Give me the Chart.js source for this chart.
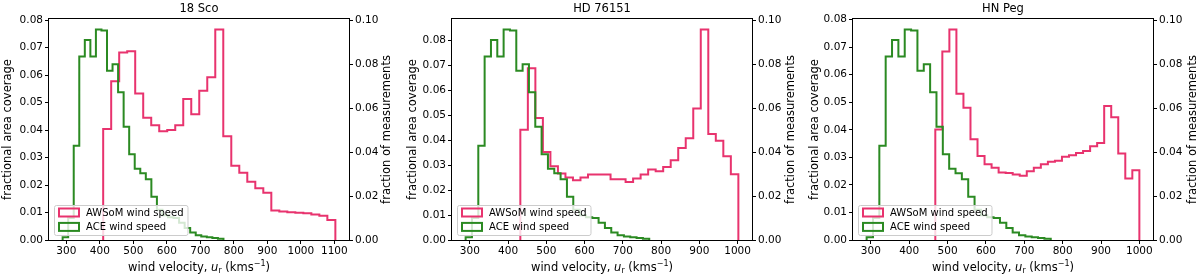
<!DOCTYPE html>
<html><head><meta charset="utf-8">
<script src="https://cdn.jsdelivr.net/npm/chart.js@4.4.1/dist/chart.umd.min.js"></script>
<style>
html,body{margin:0;padding:0;background:#fff;}
#wrap{position:relative;width:1200px;height:278px;overflow:hidden;}
canvas{position:absolute;top:0;}
</style></head><body>
<div id="wrap">
<canvas id="c0" width="400" height="278" style="left:0px"></canvas>
<canvas id="c1" width="400" height="278" style="left:400px"></canvas>
<canvas id="c2" width="400" height="278" style="left:800px"></canvas>
</div>
<script>
// ---------------- DATA ----------------
const panelTitles = ['18 Sco', 'HD 76151', 'HN Peg'];
const seriesLabels = ['AWSoM wind speed', 'ACE wind speed'];

// tick labels
const xTicks18Sco = [300, 400, 500, 600, 700, 800, 900, 1000, 1100];
const xTicksOther = [300, 400, 500, 600, 700, 800, 900, 1000];
const leftTicks = [0.00, 0.01, 0.02, 0.03, 0.04, 0.05, 0.06, 0.07, 0.08];
const rightTicks = [0.00, 0.02, 0.04, 0.06, 0.08, 0.10];

// ACE measured wind speed histogram (same in all panels), fraction of measurements, 29 bins
const aceRange = [289, 769];
const aceValues = [0.0012, 0.0100, 0.0428, 0.0834, 0.0909, 0.0834, 0.0957, 0.0952, 0.0769, 0.0799,
                   0.0672, 0.0515, 0.0390, 0.0324, 0.0303, 0.0276, 0.0197, 0.0138, 0.0112, 0.0104,
                   0.0100, 0.0078, 0.0055, 0.0034, 0.0022, 0.0016, 0.0013, 0.0009, 0.0006];

// AWSoM wind speed histograms, fractional area coverage, 29 bins each
const awsomRange18Sco = [410, 1103];
const awsom18Sco = [0.0404, 0.0578, 0.0682, 0.0687, 0.0533, 0.0445, 0.0418, 0.0396, 0.0400, 0.0418,
                    0.0513, 0.0458, 0.0543, 0.0592, 0.0766, 0.0378, 0.0270, 0.0245, 0.0212, 0.0188,
                    0.0172, 0.0107, 0.0104, 0.0101, 0.0099, 0.0097, 0.0093, 0.0088, 0.0073];

const awsomRangeHD76151 = [432, 1002];
const awsomHD76151 = [0.0442, 0.0688, 0.0489, 0.0352, 0.0295, 0.0266, 0.0250, 0.0239, 0.0250, 0.0262,
                      0.0262, 0.0262, 0.0243, 0.0243, 0.0232, 0.0246, 0.0262, 0.0282, 0.0275, 0.0292,
                      0.0319, 0.0368, 0.0408, 0.0527, 0.0843, 0.0425, 0.0398, 0.0335, 0.0263];

const awsomRangeHNPeg = [468, 1000];
const awsomHNPeg = [0.0401, 0.0684, 0.0764, 0.0531, 0.0480, 0.0366, 0.0305, 0.0275, 0.0262, 0.0245,
                    0.0243, 0.0238, 0.0233, 0.0250, 0.0262, 0.0275, 0.0284, 0.0288, 0.0302, 0.0308,
                    0.0316, 0.0323, 0.0340, 0.0352, 0.0486, 0.0446, 0.0314, 0.0223, 0.0253];

// ---------------- STYLE / LAYOUT ----------------
const RED = '#e8336e';
const GREEN = '#2b8a22';
const FONT = "'DejaVu Sans', sans-serif";
const LAYOUT = [
  {left: 49, right: 51, ltPad: 1.4, rtX: 386.7},
  {left: 52, right: 48, ltPad: 5.8, rtX: 390.7},
  {left: 53, right: 47, ltPad: 8.1, rtX: 393.3}
];

Chart.defaults.font.family = FONT;
Chart.defaults.color = '#000';

function stepPoints(range, vals) {
  const n = vals.length, w = (range[1] - range[0]) / n;
  const pts = [{x: range[0], y: 0}];
  vals.forEach((v, i) => {
    pts.push({x: range[0] + i * w, y: v});
    pts.push({x: range[0] + (i + 1) * w, y: v});
  });
  pts.push({x: range[1], y: 0});
  return pts;
}

function fixedTicks(arr) {
  return s => { s.ticks = arr.map(v => ({value: v})); };
}

const framePlugin = {
  id: 'frame',
  afterDatasetsDraw(chart) {
    const {ctx, chartArea: a} = chart;
    ctx.save();
    ctx.strokeStyle = '#000';
    ctx.lineWidth = 1;
    const l = Math.round(a.left) - 0.5, t = Math.round(a.top) - 0.5;
    const r = Math.round(a.right) + 0.5, b = Math.round(a.bottom) + 0.5;
    ctx.strokeRect(l, t, r - l, b - t);
    ctx.restore();
  }
};

const legendPlugin = {
  id: 'boxlegend',
  afterDatasetsDraw(chart) {
    const {ctx, chartArea: a} = chart;
    const ds = chart.data.datasets;
    ctx.save();
    ctx.font = '10px ' + FONT;
    const tw = Math.max(...ds.map(d => ctx.measureText(d.label).width));
    const x0 = Math.round(a.left) + 5, h = 30, y0 = Math.round(a.bottom) - 5 - h;
    const w = 32 + tw + 4;
    ctx.beginPath();
    ctx.roundRect(x0 + 0.5, y0 + 0.5, w, h, 2);
    ctx.fillStyle = 'rgba(255,255,255,0.8)';
    ctx.fill();
    ctx.strokeStyle = '#cccccc';
    ctx.lineWidth = 1;
    ctx.stroke();
    ds.forEach((d, i) => {
      const cy = y0 + 7.5 + i * 14.4;
      ctx.strokeStyle = d.borderColor;
      ctx.lineWidth = 2;
      ctx.strokeRect(x0 + 5, cy - 4, 20, 8);
      ctx.fillStyle = '#000';
      ctx.textBaseline = 'middle';
      ctx.textAlign = 'left';
      ctx.fillText(d.label, x0 + 32, cy + 0.5);
    });
    ctx.restore();
  }
};

function axisTitlesPlugin(idx) {
  return {
    id: 'axtitles' + idx,
    afterDraw(chart) {
      const {ctx, chartArea: a} = chart;
      ctx.save();
      ctx.fillStyle = '#000';
      ctx.font = '11.5px ' + FONT;
      ctx.translate(LAYOUT[idx].rtX, (a.top + a.bottom) / 2);
      ctx.rotate(-Math.PI / 2);
      ctx.textAlign = 'center';
      ctx.textBaseline = 'middle';
      ctx.fillText('fraction of measurements', 0, 0);
      ctx.restore();
      ctx.save();
      ctx.fillStyle = '#000';
      ctx.textBaseline = 'alphabetic';
      ctx.textAlign = 'left';
      const parts = [
        {t: 'wind velocity, ', f: '11.5px ' + FONT, dy: 0},
        {t: 'u', f: 'oblique 11.5px ' + FONT, dy: 0},
        {t: 'r', f: '8px ' + FONT, dy: 2.5},
        {t: ' (kms', f: '11.5px ' + FONT, dy: 0},
        {t: '\u22121', f: '8px ' + FONT, dy: -4.5},
        {t: ')', f: '11.5px ' + FONT, dy: 0}
      ];
      let total = 0;
      parts.forEach(p => { ctx.font = p.f; p.w = ctx.measureText(p.t).width; total += p.w; });
      let x = (a.left + a.right) / 2 - total / 2;
      const base = 270.5;
      parts.forEach(p => { ctx.font = p.f; ctx.fillText(p.t, x, base + p.dy); x += p.w; });
      ctx.restore();
    }
  };
}

function makeChart(idx, title, awsomRange, awsomVals, xTicks) {
  const L = LAYOUT[idx];
  const xLo = Math.min(aceRange[0], awsomRange[0]);
  const xHi = Math.max(aceRange[1], awsomRange[1]);
  const pad = 0.05 * (xHi - xLo);
  const leftMax = 1.05 * Math.max(...awsomVals);
  const rightMax = 1.05 * Math.max(...aceValues);
  const tickGrid = {drawOnChartArea: false, drawTicks: true, tickLength: 4, color: '#000', lineWidth: 1};
  new Chart(document.getElementById('c' + idx), {
    type: 'line',
    data: {
      datasets: [
        {label: seriesLabels[0], data: stepPoints(awsomRange, awsomVals), yAxisID: 'y',
         borderColor: RED, backgroundColor: 'rgba(0,0,0,0)', borderWidth: 2, pointRadius: 0,
         fill: false, tension: 0, order: 1, borderJoinStyle: 'miter'},
        {label: seriesLabels[1], data: stepPoints(aceRange, aceValues), yAxisID: 'y2',
         borderColor: GREEN, backgroundColor: 'rgba(0,0,0,0)', borderWidth: 2, pointRadius: 0,
         fill: false, tension: 0, order: 0, borderJoinStyle: 'miter'}
      ]
    },
    options: {
      responsive: false,
      animation: false,
      devicePixelRatio: 1,
      events: [],
      layout: {padding: 0},
      plugins: {
        legend: {display: false},
        tooltip: {enabled: false},
        title: {display: true, text: title, fullSize: false, color: '#000',
                font: {size: 11.5, weight: 'normal', family: FONT},
                padding: {top: 2.4, bottom: 2.8}}
      },
      scales: {
        x: {
          type: 'linear', min: xLo - pad, max: xHi + pad,
          afterFit: s => { s.height = 38; },
          afterBuildTicks: fixedTicks(xTicks),
          ticks: {autoSkip: false, maxRotation: 0, minRotation: 0,
                  padding: 1, color: '#000', font: {size: 10.5}, callback: v => String(v)},
          grid: tickGrid, border: {display: false}
        },
        y: {
          position: 'left', min: 0, max: leftMax,
          afterFit: s => { s.width = L.left; },
          afterBuildTicks: fixedTicks(leftTicks),
          ticks: {autoSkip: false, padding: 2, color: '#000',
                  font: {size: 10.5}, callback: v => Number(v).toFixed(2)},
          title: {display: true, text: 'fractional area coverage', color: '#000',
                  font: {size: 11.5}, padding: {top: L.ltPad, bottom: 0}},
          grid: tickGrid, border: {display: false}
        },
        y2: {
          position: 'right', min: 0, max: rightMax,
          afterFit: s => { s.width = L.right; },
          afterBuildTicks: fixedTicks(rightTicks),
          ticks: {autoSkip: false, padding: 2, color: '#000',
                  font: {size: 10.5}, callback: v => Number(v).toFixed(2)},
          grid: tickGrid, border: {display: false}
        }
      }
    },
    plugins: [framePlugin, legendPlugin, axisTitlesPlugin(idx)]
  });
}

makeChart(0, panelTitles[0], awsomRange18Sco, awsom18Sco, xTicks18Sco);
makeChart(1, panelTitles[1], awsomRangeHD76151, awsomHD76151, xTicksOther);
makeChart(2, panelTitles[2], awsomRangeHNPeg, awsomHNPeg, xTicksOther);
</script>
</body></html>
